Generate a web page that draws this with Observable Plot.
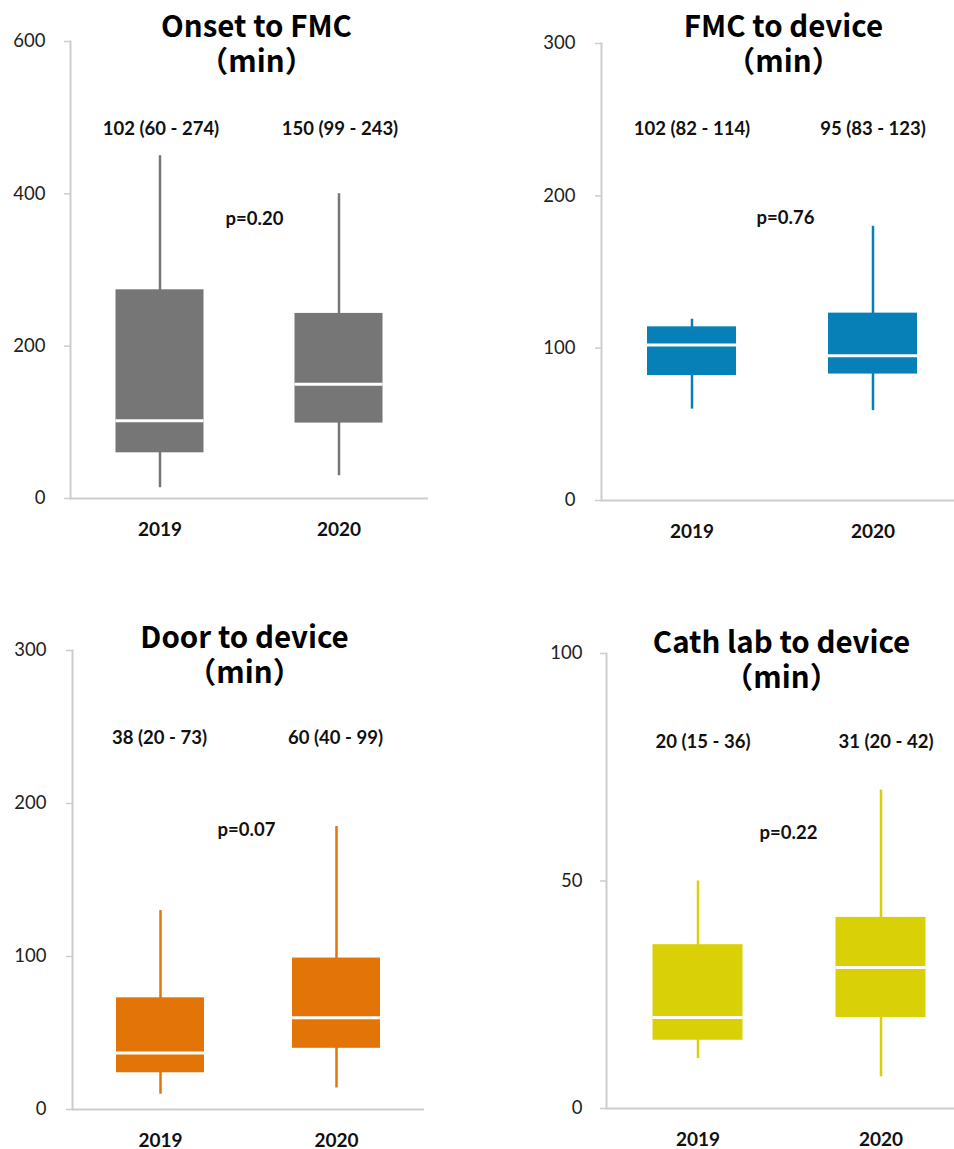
<!DOCTYPE html>
<html><head><meta charset="utf-8">
<script src="https://cdn.jsdelivr.net/npm/d3@7"></script>
<script src="https://cdn.jsdelivr.net/npm/@observablehq/plot@0.6"></script>
<style>
html,body{margin:0;padding:0;background:#fff;overflow:hidden;width:954px;height:1149px;}
.panel{position:absolute;}
</style></head><body><div id="root"></div>
<script>
// ---- data ----
const years = ["2019", "2020"];

const onsetTitle = "Onset to FMC\n（min）";
const onsetLow = [14, 30];
const onsetQ1 = [60, 99];
const onsetMedian = [102, 150];
const onsetQ3 = [274, 243];
const onsetHigh = [450, 400];
const onsetLabels = ["102 (60 - 274)", "150 (99 - 243)"];
const onsetP = "p=0.20";
const onsetTicks = [0, 200, 400, 600];

const fmcTitle = "FMC to device\n（min）";
const fmcLow = [60, 59];
const fmcQ1 = [82, 83];
const fmcMedian = [102, 95];
const fmcQ3 = [114, 123];
const fmcHigh = [119, 180];
const fmcLabels = ["102 (82 - 114)", "95 (83 - 123)"];
const fmcP = "p=0.76";
const fmcTicks = [0, 100, 200, 300];

const doorTitle = "Door to device\n（min）";
const doorLow = [10, 14];
const doorQ1 = [24, 40];
const doorMedian = [37, 60];
const doorQ3 = [73, 99];
const doorHigh = [130, 185];
const doorLabels = ["38 (20 - 73)", "60 (40 - 99)"];
const doorP = "p=0.07";
const doorTicks = [0, 100, 200, 300];

const cathTitle = "Cath lab to device\n（min）";
const cathLow = [11, 7];
const cathQ1 = [15, 20];
const cathMedian = [20, 31];
const cathQ3 = [36, 42];
const cathHigh = [50, 70];
const cathLabels = ["20 (15 - 36)", "31 (20 - 42)"];
const cathP = "p=0.22";
const cathTicks = [0, 50, 100];

const colors = ["#767676", "#0680B6", "#E37508", "#D9D008"];

// ---- drawing ----
function panel(cfg) {
  const data = years.map((year, i) => ({
    year, low: cfg.low[i], q1: cfg.q1[i], med: cfg.med[i], q3: cfg.q3[i], high: cfg.high[i], label: cfg.labels[i]
  }));
  const step = (cfg.width - cfg.marginLeft - cfg.marginRight) / years.length;
  const inset = (step - cfg.boxWidth) / 2;
  const grey = "#cdcdcd";
  const svg = Plot.plot({
    width: cfg.width, height: cfg.height,
    marginTop: cfg.marginTop, marginBottom: cfg.marginBottom,
    marginLeft: cfg.marginLeft, marginRight: cfg.marginRight,
    style: {fontFamily: "Lato, 'Open Sans', sans-serif", background: "white", overflow: "visible"},
    x: {type: "band", domain: years, paddingInner: 0, paddingOuter: 0, label: null},
    y: {domain: cfg.domain, label: null},
    marks: [
      Plot.ruleY([0], {stroke: grey, strokeWidth: 2}),
      Plot.frame({anchor: "left", stroke: grey, strokeWidth: 2}),
      Plot.axisY({ticks: cfg.ticks, tickSize: 6, tickPadding: cfg.tickPad, stroke: grey, strokeWidth: 1.5,
        fill: "#222", fontSize: 18.5, tickFormat: d => String(d), label: null}),
      Plot.axisX({tickSize: 0, tickPadding: 24, fontSize: 19, fontWeight: "bold", fill: "#111", label: null}),
      Plot.ruleX(data, {x: "year", y1: "low", y2: "high", stroke: cfg.color, strokeWidth: 2.5}),
      Plot.barY(data, {x: "year", y1: "q1", y2: "q3", fill: cfg.color, insetLeft: inset, insetRight: inset}),
      Plot.tickY(data, {x: "year", y: "med", stroke: "white", strokeWidth: 3, insetLeft: inset, insetRight: inset}),
      Plot.text(data, {x: "year", text: "label", frameAnchor: "top", dy: cfg.labelDy, dx: cfg.labelDx,
        fontSize: 18.5, fontWeight: "bold", fill: "#111"}),
      Plot.text([cfg.p], {text: d => d, frameAnchor: "top", dy: cfg.pDy, dx: cfg.pDx,
        fontSize: 18.5, fontWeight: "bold", fill: "#111"}),
      Plot.text([cfg.title], {text: d => d, frameAnchor: "top", lineAnchor: "top", dy: cfg.titleDy, dx: cfg.titleDx,
        fontSize: 29.5, fontWeight: "bold", fill: "#000", lineHeight: 1.18,
        fontFamily: "'Noto Sans CJK JP', 'Noto Sans', sans-serif"})
    ]
  });
  svg.classList.add("panel");
  svg.style.left = cfg.left + "px";
  svg.style.top = cfg.top + "px";
  document.getElementById("root").appendChild(svg);
}

panel({left: 0, top: 0, width: 477, height: 575, marginLeft: 70, marginRight: 49, marginTop: 41, marginBottom: 77,
  domain: [0, 600], ticks: onsetTicks, tickPad: 19, boxWidth: 88, color: colors[0],
  low: onsetLow, q1: onsetQ1, med: onsetMedian, q3: onsetQ3, high: onsetHigh, labels: onsetLabels, p: onsetP, title: onsetTitle,
  labelDy: 80, labelDx: 1, pDy: 170, pDx: 5, titleDy: -29, titleDx: 7});

panel({left: 477, top: 0, width: 486, height: 575, marginLeft: 124, marginRight: 0, marginTop: 43, marginBottom: 75,
  domain: [0, 300], ticks: fmcTicks, tickPad: 20, boxWidth: 89, color: colors[1],
  low: fmcLow, q1: fmcQ1, med: fmcMedian, q3: fmcQ3, high: fmcHigh, labels: fmcLabels, p: fmcP, title: fmcTitle,
  labelDy: 78, labelDx: 0, pDy: 167, pDx: 3, titleDy: -31, titleDx: 1});

panel({left: 0, top: 575, width: 477, height: 574, marginLeft: 72, marginRight: 53, marginTop: 75, marginBottom: 40,
  domain: [0, 300], ticks: doorTicks, tickPad: 20, boxWidth: 88, color: colors[2],
  low: doorLow, q1: doorQ1, med: doorMedian, q3: doorQ3, high: doorHigh, labels: doorLabels, p: doorP, title: doorTitle,
  labelDy: 80, labelDx: -1, pDy: 172, pDx: -2, titleDy: -27, titleDx: -4});

panel({left: 477, top: 575, width: 495, height: 574, marginLeft: 129, marginRight: 0, marginTop: 78, marginBottom: 41,
  domain: [0, 100], ticks: cathTicks, tickPad: 18, boxWidth: 90, color: colors[3],
  low: cathLow, q1: cathQ1, med: cathMedian, q3: cathQ3, high: cathHigh, labels: cathLabels, p: cathP, title: cathTitle,
  labelDy: 81, labelDx: 5, pDy: 172, pDx: -1, titleDy: -25, titleDx: -8});
</script>
</body></html>
